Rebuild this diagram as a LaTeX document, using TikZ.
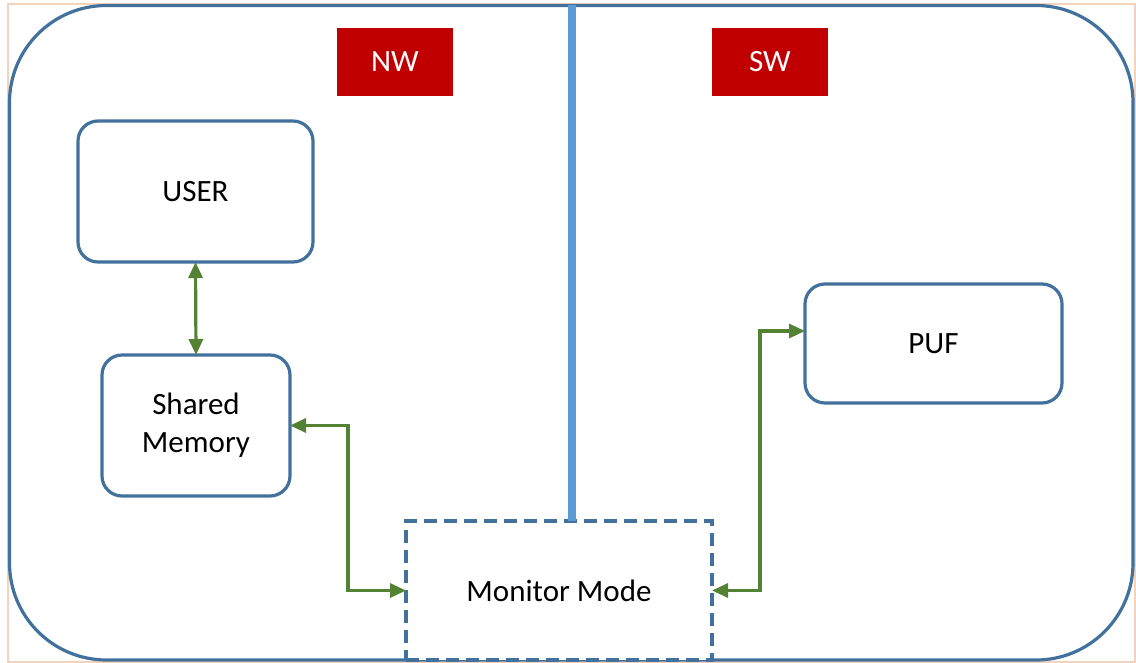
\documentclass[tikz,border=0pt]{standalone}
\usepackage{fontspec}
\setmainfont{Carlito}
\usetikzlibrary{arrows.meta}
\definecolor{frameblue}{RGB}{65,113,156}
\definecolor{dividerblue}{RGB}{91,155,213}
\definecolor{tagred}{RGB}{192,0,0}
\definecolor{linkgreen}{RGB}{84,130,53}
\definecolor{peach}{RGB}{244,211,188}
\begin{document}
\begin{tikzpicture}[x=1pt,y=-1pt,
  every node/.style={font=\fontsize{31}{38}\selectfont, inner sep=0pt, outer sep=0pt},
  block/.style={draw=frameblue, line width=3.2pt, rounded corners=20pt, fill=white, align=center},
  tagbox/.style={fill=tagred, text=white, minimum width=116pt, minimum height=68pt},
  monitorbox/.style={draw=frameblue, line width=3.2pt, dash pattern=on 13pt off 7pt, fill=white, minimum width=306pt, minimum height=139pt},
  link/.style={draw=linkgreen, line width=3.2pt, {Triangle[length=16pt,width=14pt]}-{Triangle[length=16pt,width=14pt]}}
]
\useasboundingbox (0,0) rectangle (1136,663);
\draw[peach, line width=1.5pt] (8,4) rectangle (1135,662);
\draw[frameblue, line width=3.2pt, rounded corners=97pt] (9.5,5.5) rectangle (1133,660);

\node[tagbox] (nw) at (395,62) {NW};
\node[tagbox] (sw) at (770,62) {SW};

\node[block, minimum width=235pt, minimum height=141pt] (user) at (195.5,191.5) {USER};
\node[block, minimum width=188pt, minimum height=141pt] (shared) at (196,425.5) {Shared\\Memory};
\node[block, minimum width=257pt, minimum height=119pt] (puf) at (933.5,343.5) {PUF};
\node[monitorbox] (monitor) at (559,590.5) {Monitor Mode};

\coordinate (divtop) at (572,5);
\draw[dividerblue, line width=8pt] (divtop) -- (divtop |- monitor.north);

\draw[link] (user.south) -- (shared.north);
\draw[link] (shared.east) -- ++(58,0) |- (monitor.west);
\draw[link] (monitor.east) -- ++(48,0) |- ([yshift=12.5pt]puf.west);
\end{tikzpicture}
\end{document}
